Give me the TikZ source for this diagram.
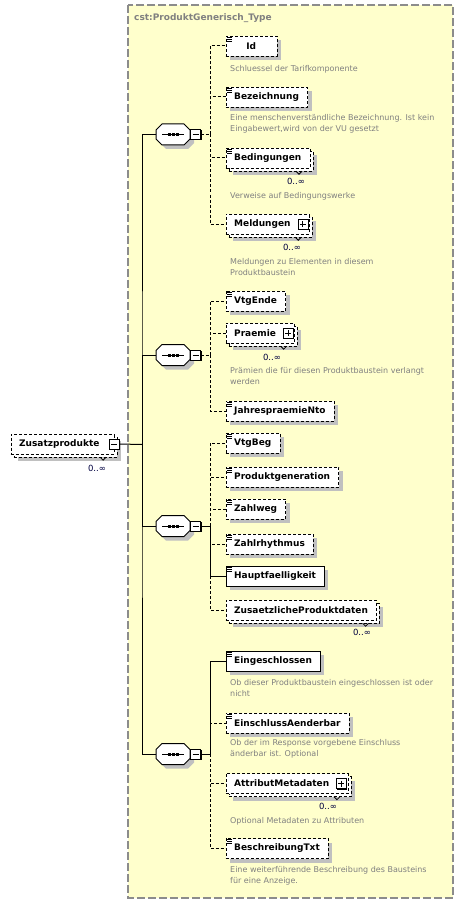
\documentclass[tikz,border=0pt]{standalone}
\usepackage{fontspec}
\setmainfont{DejaVu Sans}
\usetikzlibrary{shadows}
\definecolor{typeyellow}{HTML}{FFFFCC}
\definecolor{framegray}{HTML}{8C8C8C}
\definecolor{descgray}{HTML}{808080}
\definecolor{shadowgray}{HTML}{C0C0C0}
\definecolor{occblue}{HTML}{000040}

\begin{document}
\begin{tikzpicture}[x=1pt, y=-1pt]
    % Styles
    \tikzstyle{box} = [draw=black, dash pattern=on 3pt off 2pt, fill=white, anchor=west, minimum width=51pt, minimum height=20pt, inner xsep=8.5pt, inner ysep=0pt, font=\fontsize{9}{11}\selectfont\bfseries]
    \tikzstyle{elem} = [box, drop shadow={opacity=1, fill=shadowgray, shadow xshift=4pt, shadow yshift=-4pt}]
    \tikzstyle{reqelem} = [elem, solid]
    \tikzstyle{multielem} = [box, drop shadow={opacity=1, fill=shadowgray, shadow xshift=7pt, shadow yshift=-7pt}, copy shadow={draw=black, dash pattern=on 3pt off 2pt, fill=white, shadow xshift=3pt, shadow yshift=-3pt}]
    \tikzstyle{seqbox} = [minimum width=34pt, minimum height=21pt, inner sep=0pt]
    \tikzstyle{toggle} = [draw=black, solid, fill=white, minimum size=10pt, inner sep=0pt, drop shadow={opacity=1, fill=black, shadow xshift=1pt, shadow yshift=-1pt}]
    \tikzstyle{desc} = [anchor=west, align=left, inner sep=0pt, text=descgray, font=\fontsize{8}{11}\selectfont]
    \tikzstyle{occ} = [inner sep=0pt, text=occblue, font=\fontsize{8.5}{10}\selectfont]
    \tikzstyle{typetitle} = [anchor=west, inner sep=0pt, text=descgray, font=\fontsize{9}{11}\selectfont\bfseries]
    \tikzstyle{conn} = [draw=black, line width=1pt]
    \tikzstyle{optconn} = [conn, dash pattern=on 3pt off 2pt]

    \useasboundingbox (0,0) rectangle (464,904);

    % Type frame
    \draw[draw=framegray, fill=typeyellow, line width=1.2pt, dash pattern=on 8pt off 3pt] (128,5) rectangle (453,898);
    \node[typetitle] (title) at (134,18) {cst:ProduktGenerisch\_Type};

    % Root element
    \node[multielem] (zp) at (10.5,444) {Zusatzprodukte\kern6pt};
    \node[toggle] (zpm) at (zp.east) {};
    \node[occ] (zpocc) at (97,468) {0..∞};
    \coordinate (trunk) at (142,444.5);

    % Sequences
    \node[seqbox] (seq1) at (173,134.5) {};
    \node[seqbox] (seq2) at (173,355) {};
    \node[seqbox] (seq3) at (173,526) {};
    \node[seqbox] (seq4) at (173,754) {};
    \foreach \s in {seq1,seq2,seq3,seq4} {
        \fill[shadowgray] ([shift={(4,4)}]\s.center) +(-17,-4.5) -- +(-11,-10.5) -- +(11,-10.5) -- +(17,-4.5)
            -- +(17,4.5) -- +(11,10.5) -- +(-11,10.5) -- +(-17,4.5) -- cycle;
        \filldraw[fill=white, line width=1pt] (\s.center) +(-17,-4.5) -- +(-11,-10.5) -- +(11,-10.5) -- +(17,-4.5)
            -- +(17,4.5) -- +(11,10.5) -- +(-11,10.5) -- +(-17,4.5) -- cycle;
        \draw[line width=0.8pt] (\s.center) +(-11,0) -- +(11,0);
        \foreach \d in {-4,0,4}
            \fill (\s.center) ++(\d,0) +(-1.5,-1.5) rectangle +(1.5,1.5);
    }
    \node[toggle] (seq1m) at (195.5,134.5) {};
    \node[toggle] (seq2m) at (195.5,355) {};
    \node[toggle] (seq3m) at (195.5,526) {};
    \node[toggle] (seq4m) at (195.5,754) {};
    \coordinate (j1) at (210,134.5);
    \coordinate (j2) at (210,355);
    \coordinate (j3) at (210,526);
    \coordinate (j4) at (210,754);

    % Elements - sequence 1
    \node[elem] (id) at (225.5,46) {Id};
    \node[desc] (iddesc) at (230,69) {Schluessel der Tarifkomponente};
    \node[elem] (bez) at (225.5,97) {Bezeichnung};
    \node[desc] (bezdesc) at (230,124) {Eine menschenverständliche Bezeichnung. Ist kein\\Eingabewert,wird von der VU gesetzt};
    \node[multielem] (beding) at (225.5,158) {Bedingungen};
    \node[occ] (bedingocc) at (296,181) {0..∞};
    \node[desc] (bedingdesc) at (230,196) {Verweise auf Bedingungswerke};
    \node[multielem] (meld) at (225.5,224) {Meldungen\kern10pt};
    \node[occ] (meldocc) at (292,247) {0..∞};
    \node[desc] (melddesc) at (230,267) {Meldungen zu Elementen in diesem\\Produktbaustein};

    % Elements - sequence 2
    \node[elem] (vtgende) at (225.5,301) {VtgEnde};
    \node[multielem] (praemie) at (225.5,333) {Praemie\kern10pt};
    \node[occ] (praemieocc) at (272,357) {0..∞};
    \node[desc] (praemiedesc) at (230,376.5) {Prämien die für diesen Produktbaustein verlangt\\werden};
    \node[elem] (jpn) at (225.5,411) {JahrespraemieNto};

    % Elements - sequence 3
    \node[elem] (vtgbeg) at (225.5,443) {VtgBeg};
    \node[elem] (prodgen) at (225.5,477) {Produktgeneration};
    \node[elem] (zahlweg) at (225.5,509) {Zahlweg};
    \node[elem] (zahlrh) at (225.5,544) {Zahlrhythmus};
    \node[reqelem] (hpt) at (225.5,576) {Hauptfaelligkeit};
    \node[multielem] (zpd) at (225.5,610) {ZusaetzlicheProduktdaten};
    \node[occ] (zpdocc) at (362,632) {0..∞};

    % Elements - sequence 4
    \node[reqelem] (einges) at (225.5,661) {Eingeschlossen};
    \node[desc] (eingesdesc) at (230,688) {Ob dieser Produktbaustein eingeschlossen ist oder\\nicht};
    \node[elem] (einschl) at (225.5,723) {EinschlussAenderbar};
    \node[desc] (einschldesc) at (230,749) {Ob der im Response vorgebene Einschluss\\änderbar ist. Optional};
    \node[multielem] (attr) at (225.5,783.5) {AttributMetadaten\kern10pt};
    \node[occ] (attrocc) at (328,806) {0..∞};
    \node[desc] (attrdesc) at (230,821) {Optional Metadaten zu Attributen};
    \node[elem] (beschr) at (225.5,848.5) {BeschreibungTxt};
    \node[desc] (beschrdesc) at (230,876) {Eine weiterführende Beschreibung des Bausteins\\für eine Anzeige.};

    % Expand boxes
    \node[toggle] (meldp) at ([xshift=-6.5pt]meld.east) {};
    \node[toggle] (praemiep) at ([xshift=-6.5pt]praemie.east) {};
    \node[toggle] (attrp) at ([xshift=-6.5pt]attr.east) {};
    \foreach \t in {zpm,seq1m,seq2m,seq3m,seq4m,meldp,praemiep,attrp}
        \draw[line width=1pt] (\t.center) +(-3,0) -- +(3,0);
    \foreach \t in {meldp,praemiep,attrp}
        \draw[line width=1pt] (\t.center) +(0,-3) -- +(0,3);

    % Simple content marks and repeat notches
    \foreach \n in {id,bez,beding,vtgende,jpn,vtgbeg,prodgen,zahlweg,zahlrh,hpt,einges,einschl,beschr}
        \foreach \k in {1.5,3.5,5.5}
            \draw[line width=0.8pt] ([shift={(1,\k)}]\n.north west) -- ++(5,0);
    \foreach \n in {zp,beding,meld,praemie,zpd,attr}
        \draw[line width=0.8pt] ([shift={(-14,3)}]\n.south east) -- ++(3,3) -- ++(3,-3);

    % Connectors
    \draw[conn] (zpm.east) -- (trunk);
    \draw[conn] (seq1.west) -| (trunk) |- (seq4.west);
    \draw[conn] (seq2.west) -| (trunk);
    \draw[conn] (seq3.west) -| (trunk);
    \draw[optconn] (seq1m.east) -- (j1);
    \draw[optconn] (seq2m.east) -- (j2);
    \draw[conn] (seq3m.east) -- (j3);
    \draw[conn] (seq4m.east) -- (j4);
    \foreach \n in {id,bez,beding,meld}
        \draw[optconn] (j1) |- (\n.west);
    \foreach \n in {vtgende,praemie,jpn}
        \draw[optconn] (j2) |- (\n.west);
    \foreach \n in {vtgbeg,prodgen,zahlweg,zahlrh,zpd}
        \draw[optconn] (j3) |- (\n.west);
    \draw[conn] (j3) |- (hpt.west);
    \foreach \n in {einschl,attr,beschr}
        \draw[optconn] (j4) |- (\n.west);
    \draw[conn] (j4) |- (einges.west);
\end{tikzpicture}
\end{document}
